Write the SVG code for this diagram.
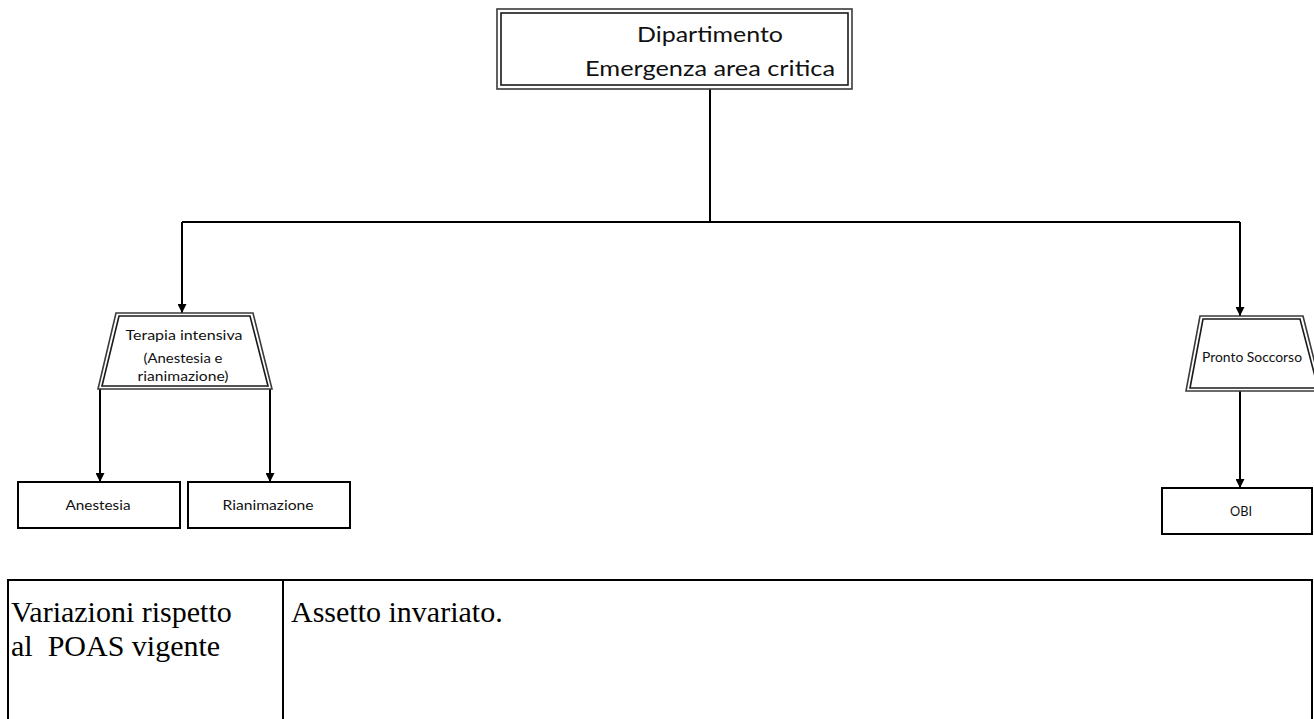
<svg xmlns="http://www.w3.org/2000/svg" width="1314" height="719" viewBox="0 0 1314 719">
  <defs>
    <marker id="arrow" viewBox="0 0 10 10" refX="10" refY="5" markerWidth="9" markerHeight="9" markerUnits="userSpaceOnUse" orient="auto">
      <path d="M0,0 L10,5 L0,10 Z" fill="#000"/>
    </marker>
    <style>
      .edge { fill: none; stroke: #000; stroke-width: 2; }
      .outer { fill: #fff; stroke: #3a3a3a; stroke-width: 1.6; }
      .inner { fill: none; stroke: #1a1a1a; stroke-width: 1.6; }
      .box { fill: #fff; stroke: #000; stroke-width: 2; }
      .lbl { font-family: Lato, "Open Sans", "Liberation Sans", sans-serif; fill: #111; text-anchor: middle; }
      .big { font-size: 21px; }
      .small { font-size: 13px; }
      .cell { font-family: "Liberation Serif", "Times New Roman", serif; font-size: 30px; fill: #000; }
      .rule { stroke: #000; stroke-width: 2; fill: none; }
    </style>
  </defs>

  <!-- connectors -->
  <g id="connectors">
    <path class="edge" d="M710,89 V222"/>
    <path class="edge" d="M182,222 H1240"/>
    <path class="edge" d="M182,222 V313" marker-end="url(#arrow)"/>
    <path class="edge" d="M1240,222 V316" marker-end="url(#arrow)"/>
    <path class="edge" d="M100,389 V482" marker-end="url(#arrow)"/>
    <path class="edge" d="M270,389 V482" marker-end="url(#arrow)"/>
    <path class="edge" d="M1240,391 V488" marker-end="url(#arrow)"/>
  </g>

  <!-- department (root) -->
  <g id="node-dipartimento">
    <rect class="outer" x="497" y="9" width="355" height="80"/>
    <rect class="inner" x="501" y="13" width="347" height="72"/>
    <text class="lbl big" x="710" y="42" textLength="146" lengthAdjust="spacingAndGlyphs">Dipartimento</text>
    <text class="lbl big" x="710" y="76" textLength="250" lengthAdjust="spacingAndGlyphs">Emergenza area critica</text>
  </g>

  <!-- intensive care -->
  <g id="node-terapia-intensiva">
    <path class="outer" d="M116,313 H253 L272,389 H98 Z"/>
    <path class="inner" d="M119,316 H250 L268,386 H102 Z"/>
    <text class="lbl small" x="184" y="340" textLength="117" lengthAdjust="spacingAndGlyphs">Terapia intensiva</text>
    <text class="lbl small" x="183" y="363" textLength="79" lengthAdjust="spacingAndGlyphs">(Anestesia e</text>
    <text class="lbl small" x="183" y="381" textLength="91" lengthAdjust="spacingAndGlyphs">rianimazione)</text>
  </g>

  <g id="node-anestesia">
    <rect class="box" x="18" y="482" width="162" height="46"/>
    <text class="lbl small" x="98" y="510" textLength="65" lengthAdjust="spacingAndGlyphs">Anestesia</text>
  </g>

  <g id="node-rianimazione">
    <rect class="box" x="188" y="482" width="162" height="46"/>
    <text class="lbl small" x="268" y="510" textLength="91" lengthAdjust="spacingAndGlyphs">Rianimazione</text>
  </g>

  <!-- emergency room -->
  <g id="node-pronto-soccorso">
    <path class="outer" d="M1200,316 H1303 L1322,391 H1186 Z"/>
    <path class="inner" d="M1203,319 H1300 L1318,388 H1190 Z"/>
    <text class="lbl small" x="1252" y="362" textLength="100" lengthAdjust="spacingAndGlyphs">Pronto Soccorso</text>
  </g>

  <g id="node-obi">
    <rect class="box" x="1162" y="488" width="150" height="46"/>
    <text class="lbl small" x="1241" y="516" textLength="22" lengthAdjust="spacingAndGlyphs">OBI</text>
  </g>

  <!-- notes table -->
  <g id="table">
    <path class="rule" d="M8,720 V580 H1312 V720"/>
    <path class="rule" d="M283,580 V720"/>
    <text class="cell" x="11" y="622">Variazioni rispetto</text>
    <text class="cell" x="11" y="656" xml:space="preserve">al  POAS vigente</text>
    <text class="cell" x="291" y="622">Assetto invariato.</text>
  </g>
</svg>
